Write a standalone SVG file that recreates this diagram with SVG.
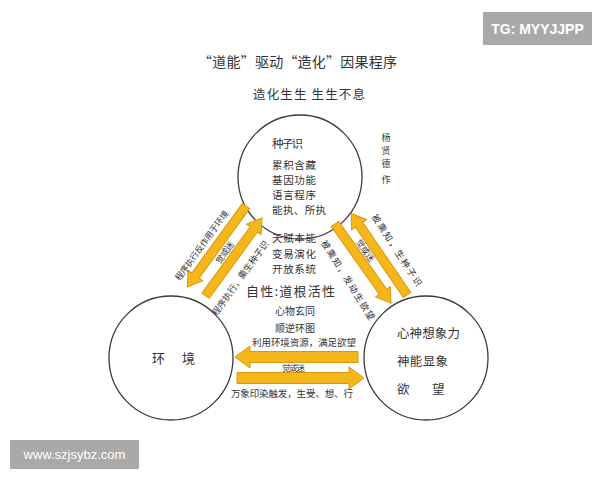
<svg xmlns="http://www.w3.org/2000/svg" width="600" height="480" viewBox="0 0 600 480">
<style>
.c{fill:none;stroke:#3a3a3a;stroke-width:1.3}
.t{font-family:"Noto Sans CJK SC","Noto Sans",sans-serif;fill:#333;dominant-baseline:central}
.m{text-anchor:middle}
.ar{fill:#F4B61A;stroke:#D99A08;stroke-width:1}
.wm{fill:#a9a9a9}
.wt{font-family:"Liberation Sans",Arial,sans-serif;fill:#fff;text-anchor:middle;dominant-baseline:central}
</style>
<rect width="600" height="480" fill="#fff"/>
<g id="title">
<text class="t m" x="297.5" y="61" font-size="14" textLength="199" lengthAdjust="spacing">“道能”驱动“造化”因果程序</text>
<text class="t m" x="309" y="93" font-size="12.5" textLength="112" lengthAdjust="spacing">造化生生 生生不息</text>
</g>
<g id="author">
<text class="t m" x="386" y="137" font-size="9">杨</text>
<text class="t m" x="386" y="150" font-size="9">贤</text>
<text class="t m" x="386" y="163" font-size="9">德</text>
<text class="t m" x="386" y="179" font-size="9">作</text>
</g>
<g id="node-seed">
<circle class="c" cx="300" cy="177" r="62"/>
<text class="t" x="272" y="143" font-size="11.5" textLength="31" lengthAdjust="spacing">种子识</text>
<text class="t" x="272" y="164" font-size="10.5" textLength="44" lengthAdjust="spacing">累积含藏</text>
<text class="t" x="272" y="179" font-size="10.5" textLength="44" lengthAdjust="spacing">基因功能</text>
<text class="t" x="272" y="194" font-size="10.5" textLength="44" lengthAdjust="spacing">语言程序</text>
<text class="t" x="272" y="209" font-size="10.5" textLength="54" lengthAdjust="spacing">能执、所执</text>
</g>
<g id="node-env">
<circle class="c" cx="171" cy="358" r="62"/>
<text class="t" x="152" y="357" font-size="13">环</text>
<text class="t" x="182" y="357" font-size="13">境</text>
</g>
<g id="node-mind">
<circle class="c" cx="426" cy="358" r="62"/>
<text class="t" x="397" y="332" font-size="12.5" textLength="63" lengthAdjust="spacing">心神想象力</text>
<text class="t" x="397" y="360" font-size="12.5" textLength="51" lengthAdjust="spacing">神能显象</text>
<text class="t" x="397" y="388" font-size="12.5">欲</text>
<text class="t" x="432" y="388" font-size="12.5">望</text>
</g>
<g id="node-center">
<text class="t" x="272" y="237" font-size="10.5" textLength="44" lengthAdjust="spacing">天赋本能</text>
<text class="t" x="272" y="253" font-size="10.5" textLength="44" lengthAdjust="spacing">变易演化</text>
<text class="t" x="272" y="268" font-size="10.5" textLength="44" lengthAdjust="spacing">开放系统</text>
<text class="t" x="246" y="290" font-size="13" textLength="89" lengthAdjust="spacing">自性:道根活性</text>
<text class="t" x="275" y="310" font-size="10" textLength="40" lengthAdjust="spacing">心物玄同</text>
<text class="t" x="275" y="327" font-size="10" textLength="40" lengthAdjust="spacing">顺逆环图</text>
</g>
<g id="connectors">
<path class="ar" transform="translate(246,206) rotate(126)" d="M0,-4.5H86V-9L100,0L86,9V4.5H0Z"/>
<path class="ar" transform="translate(205.6,295.7) rotate(-54)" d="M0,-4.5H82V-9L96,0L82,9V4.5H0Z"/>
<path class="ar" transform="translate(407,295) rotate(-124.3)" d="M0,-4.5H85V-9L99,0L85,9V4.5H0Z"/>
<path class="ar" transform="translate(335,224) rotate(54.7)" d="M0,-4.5H83V-9L97,0L83,9V4.5H0Z"/>
<path class="ar" transform="translate(358,357) rotate(180)" d="M0,-5.5H108V-11L123,0L108,11V5.5H0Z"/>
<path class="ar" transform="translate(237,378)" d="M0,-5.5H112V-11L127,0L112,11V5.5H0Z"/>
<text class="t m" transform="translate(201,245) rotate(-54)" font-size="8.5" textLength="84" lengthAdjust="spacing">程序执行反作用于环境</text>
<text class="t m" transform="translate(224,252) rotate(-54)" font-size="8.5" textLength="25" lengthAdjust="spacing">觉或迷</text>
<text class="t m" transform="translate(240,278) rotate(-54)" font-size="9" textLength="90" lengthAdjust="spacing">程序执行，熏生种子识</text>
<text class="t m" transform="translate(397,250) rotate(57)" font-size="9" textLength="84" lengthAdjust="spacing">被熏知，生种子识</text>
<text class="t m" transform="translate(366,250) rotate(55)" font-size="8.5" textLength="25" lengthAdjust="spacing">觉或迷</text>
<text class="t m" transform="translate(348,280) rotate(58)" font-size="9" textLength="92" lengthAdjust="spacing">被熏知，发动生欲望</text>
<text class="t" x="252" y="342" font-size="9.5" textLength="104" lengthAdjust="spacing">利用环境资源，满足欲望</text>
<text class="t" x="282" y="367" font-size="8.5" textLength="23" lengthAdjust="spacing">觉或迷</text>
<text class="t" x="231" y="393" font-size="9.5" textLength="122" lengthAdjust="spacing">万象印染触发，生受、想、行</text>
</g>
<g id="watermarks">
<rect class="wm" x="483" y="12" width="109" height="33"/>
<text class="wt" x="537.5" y="28.5" font-size="14" font-weight="bold">TG: MYYJJPP</text>
<rect class="wm" x="10" y="440" width="129" height="29"/>
<text class="wt" x="74.5" y="454.5" font-size="13">www.szjsybz.com</text>
</g>
</svg>
